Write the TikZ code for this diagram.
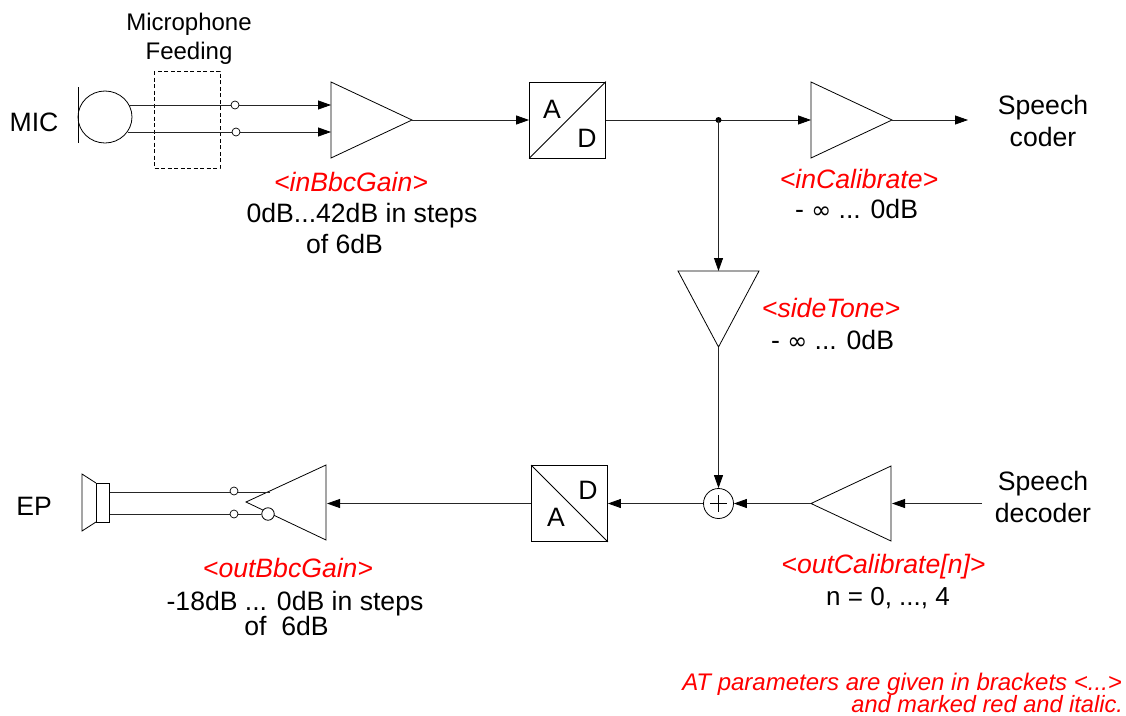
\documentclass[tikz,border=0pt]{standalone}
\usepackage{fontspec}
\setmainfont{Liberation Sans}
\newfontfamily\inffont{DejaVu Sans}
\newcommand{\infsym}{{\inffont\fontsize{24}{29}\selectfont ∞}}
\usetikzlibrary{arrows.meta,shapes.geometric}
\definecolor{atred}{RGB}{255,0,0}
\tikzset{
  wire/.style={line width=0.8pt,black!85},
  arrowwire/.style={wire,-{Triangle[length=13pt,width=9pt,color=black]}},
  outline/.style={line width=0.8pt,black},
  ampshape/.style={outline,line join=miter},
  tap/.style={circle,draw,line width=0.7pt,fill=white,minimum size=8pt,inner sep=0pt},
  convbox/.style={draw,line width=0.8pt,minimum width=76pt,minimum height=76pt,inner sep=0pt},
  lab/.style={inner sep=0pt,anchor=base,font=\fontsize{26.6}{29}\selectfont},
  smalllab/.style={lab,font=\fontsize{24}{26}\selectfont},
  param/.style={lab,text=atred,font=\fontsize{26.6}{29}\itshape\selectfont},
  note/.style={inner sep=0pt,outer sep=0pt,anchor=base east,text=atred,font=\fontsize{24}{26}\itshape\selectfont}
}
\begin{document}
\begin{tikzpicture}[x=1pt,y=-1pt]
\useasboundingbox (0,0) rectangle (1126,715);
% --- microphone ---
\draw[outline] (78,87) -- (78,143);
\node[draw,line width=0.8pt,ellipse,minimum width=54pt,minimum height=52pt,inner sep=0pt] (mic) at (105,117) {};
\draw[outline,dashed,dash pattern=on 4pt off 2.5pt] (154,71) rectangle (220,168);
% --- amplifier 1 ---
\coordinate (a1t) at (331,82); \coordinate (a1b) at (331,158); \coordinate (a1o) at (412,120);
\coordinate (a1i1) at (331,105); \coordinate (a1i2) at (331,132);
\coordinate (m1) at (129,105); \coordinate (m2) at (128,132);
\draw[ampshape] (a1t) -- (a1o) -- (a1b) -- cycle;
\draw[arrowwire] (m1) -- (a1i1);
\draw[arrowwire] (m2) -- (a1i2);
\node[tap] (t1) at (235,105) {};
\node[tap] (t2) at (236,132) {};
% --- ADC ---
\node[convbox] (adc) at (567.5,120) {};
\draw[outline] (adc.south west) -- (adc.north east);
\node[lab] (adcA) at (552,118) {A};
\node[lab] (adcD) at (587,147) {D};
\draw[arrowwire] (a1o) -- (adc.west);
% --- amplifier 2 ---
\coordinate (a2t) at (811,82); \coordinate (a2b) at (811,158); \coordinate (a2i) at (811,120); \coordinate (a2o) at (892,120);
\draw[ampshape] (a2t) -- (a2o) -- (a2b) -- cycle;
\coordinate (coderin) at (968,120);
\coordinate (jn) at (718.5,120);
\draw[arrowwire] (adc.east) -- (a2i);
\draw[arrowwire] (a2o) -- (coderin);
\fill (jn) circle (3pt);
% --- side tone ---
\coordinate (stl) at (678,271); \coordinate (str) at (759,271); \coordinate (sti) at (718.5,271); \coordinate (sto) at (718.5,347);
\draw[ampshape] (stl) -- (str) -- (sto) -- cycle;
\draw[arrowwire] (jn) -- (sti);
% --- sum ---
\node[circle,draw,line width=0.8pt,minimum size=30pt,inner sep=0pt] (sum) at (718.5,503.5) {};
\draw[outline] (710,503.5) -- (727,503.5) (718.5,495) -- (718.5,512);
\draw[arrowwire] (sto) -- (sum.north);
% --- DAC ---
\node[convbox] (dac) at (569.5,503.5) {};
\draw[outline] (dac.north west) -- (dac.south east);
\node[lab] (dacD) at (588,499) {D};
\node[lab] (dacA) at (556,526) {A};
\draw[arrowwire] (sum.west) -- (dac.east);
% --- amplifier 3 ---
\coordinate (a3o) at (811,503.5); \coordinate (a3t) at (891,466); \coordinate (a3b) at (891,541); \coordinate (a3i) at (892,503.5);
\coordinate (decout) at (982,503.5);
\draw[ampshape] (a3o) -- (a3t) -- (a3b) -- cycle;
\draw[arrowwire] (a3o) -- (sum.east);
\draw[arrowwire] (decout) -- (a3i);
% --- amplifier 4 ---
\coordinate (a4t) at (326,465); \coordinate (a4b) at (326,540); \coordinate (a4o) at (246,502); \coordinate (a4i) at (327,503.5);
\draw[arrowwire] (dac.west) -- (a4i);
\coordinate (e1a) at (270,492); \coordinate (e1b) at (109,492);
\coordinate (e2b) at (109,514);
\draw[ampshape] (a4t) -- (a4o) -- (a4b) -- cycle;
\node[circle,draw,fill=white,line width=0.8pt,minimum size=12.5pt,inner sep=0pt] (bub) at (268,514) {};
\draw[wire] (e1a) -- (e1b);
\draw[wire] (bub.west) -- (e2b);
\node[tap] (t3) at (234,491) {};
\node[tap] (t4) at (234,514) {};
% --- earpiece ---
\draw[outline] (96,483) rectangle (109,522);
\draw[outline] (96,483) -- (82,474) -- (82,531) -- (96,522);
% --- texts ---
\node[smalllab] (tmic1) at (189,30) {Microphone};
\node[smalllab] (tmic2) at (189,59) {Feeding};
\node[lab] (tmic) at (34,131) {MIC};
\node[lab] (tep) at (34,515) {EP};
\node[lab] (tc1) at (1043,114) {Speech};
\node[lab] (tc2) at (1043,146) {coder};
\node[lab] (td1) at (1043,490) {Speech};
\node[lab] (td2) at (1043,522) {decoder};
\node[param] (p1) at (351,191) {<inBbcGain>};
\node[lab] (p1a) at (362,222) {0dB...42dB in steps};
\node[lab] (p1b) at (344.5,253) {of 6dB};
\node[param] (p2) at (859,188) {<inCalibrate>};
\node[lab] (p2a) at (856.5,218) {- \infsym{} ... 0dB};
\node[param] (p3) at (831,317) {<sideTone>};
\node[lab] (p3a) at (832.5,349) {- \infsym{} ... 0dB};
\node[param] (p4) at (288,577) {<outBbcGain>};
\node[lab] (p4a) at (295,610) {-18dB ... 0dB in steps};
\node[lab] (p4b) at (286.5,635) {of\ \ 6dB};
\node[param] (p5) at (883.5,573) {<outCalibrate[n]>};
\node[lab,font=\fontsize{26}{29}\selectfont] (p5a) at (888,605) {n = 0, ..., 4};
\node[note] (n1) at (1122,690) {AT parameters are given in brackets <...>};
\node[note,font=\fontsize{23.6}{26}\itshape\selectfont] (n2) at (1123,712) {and marked red and italic.};
\end{tikzpicture}
\end{document}
